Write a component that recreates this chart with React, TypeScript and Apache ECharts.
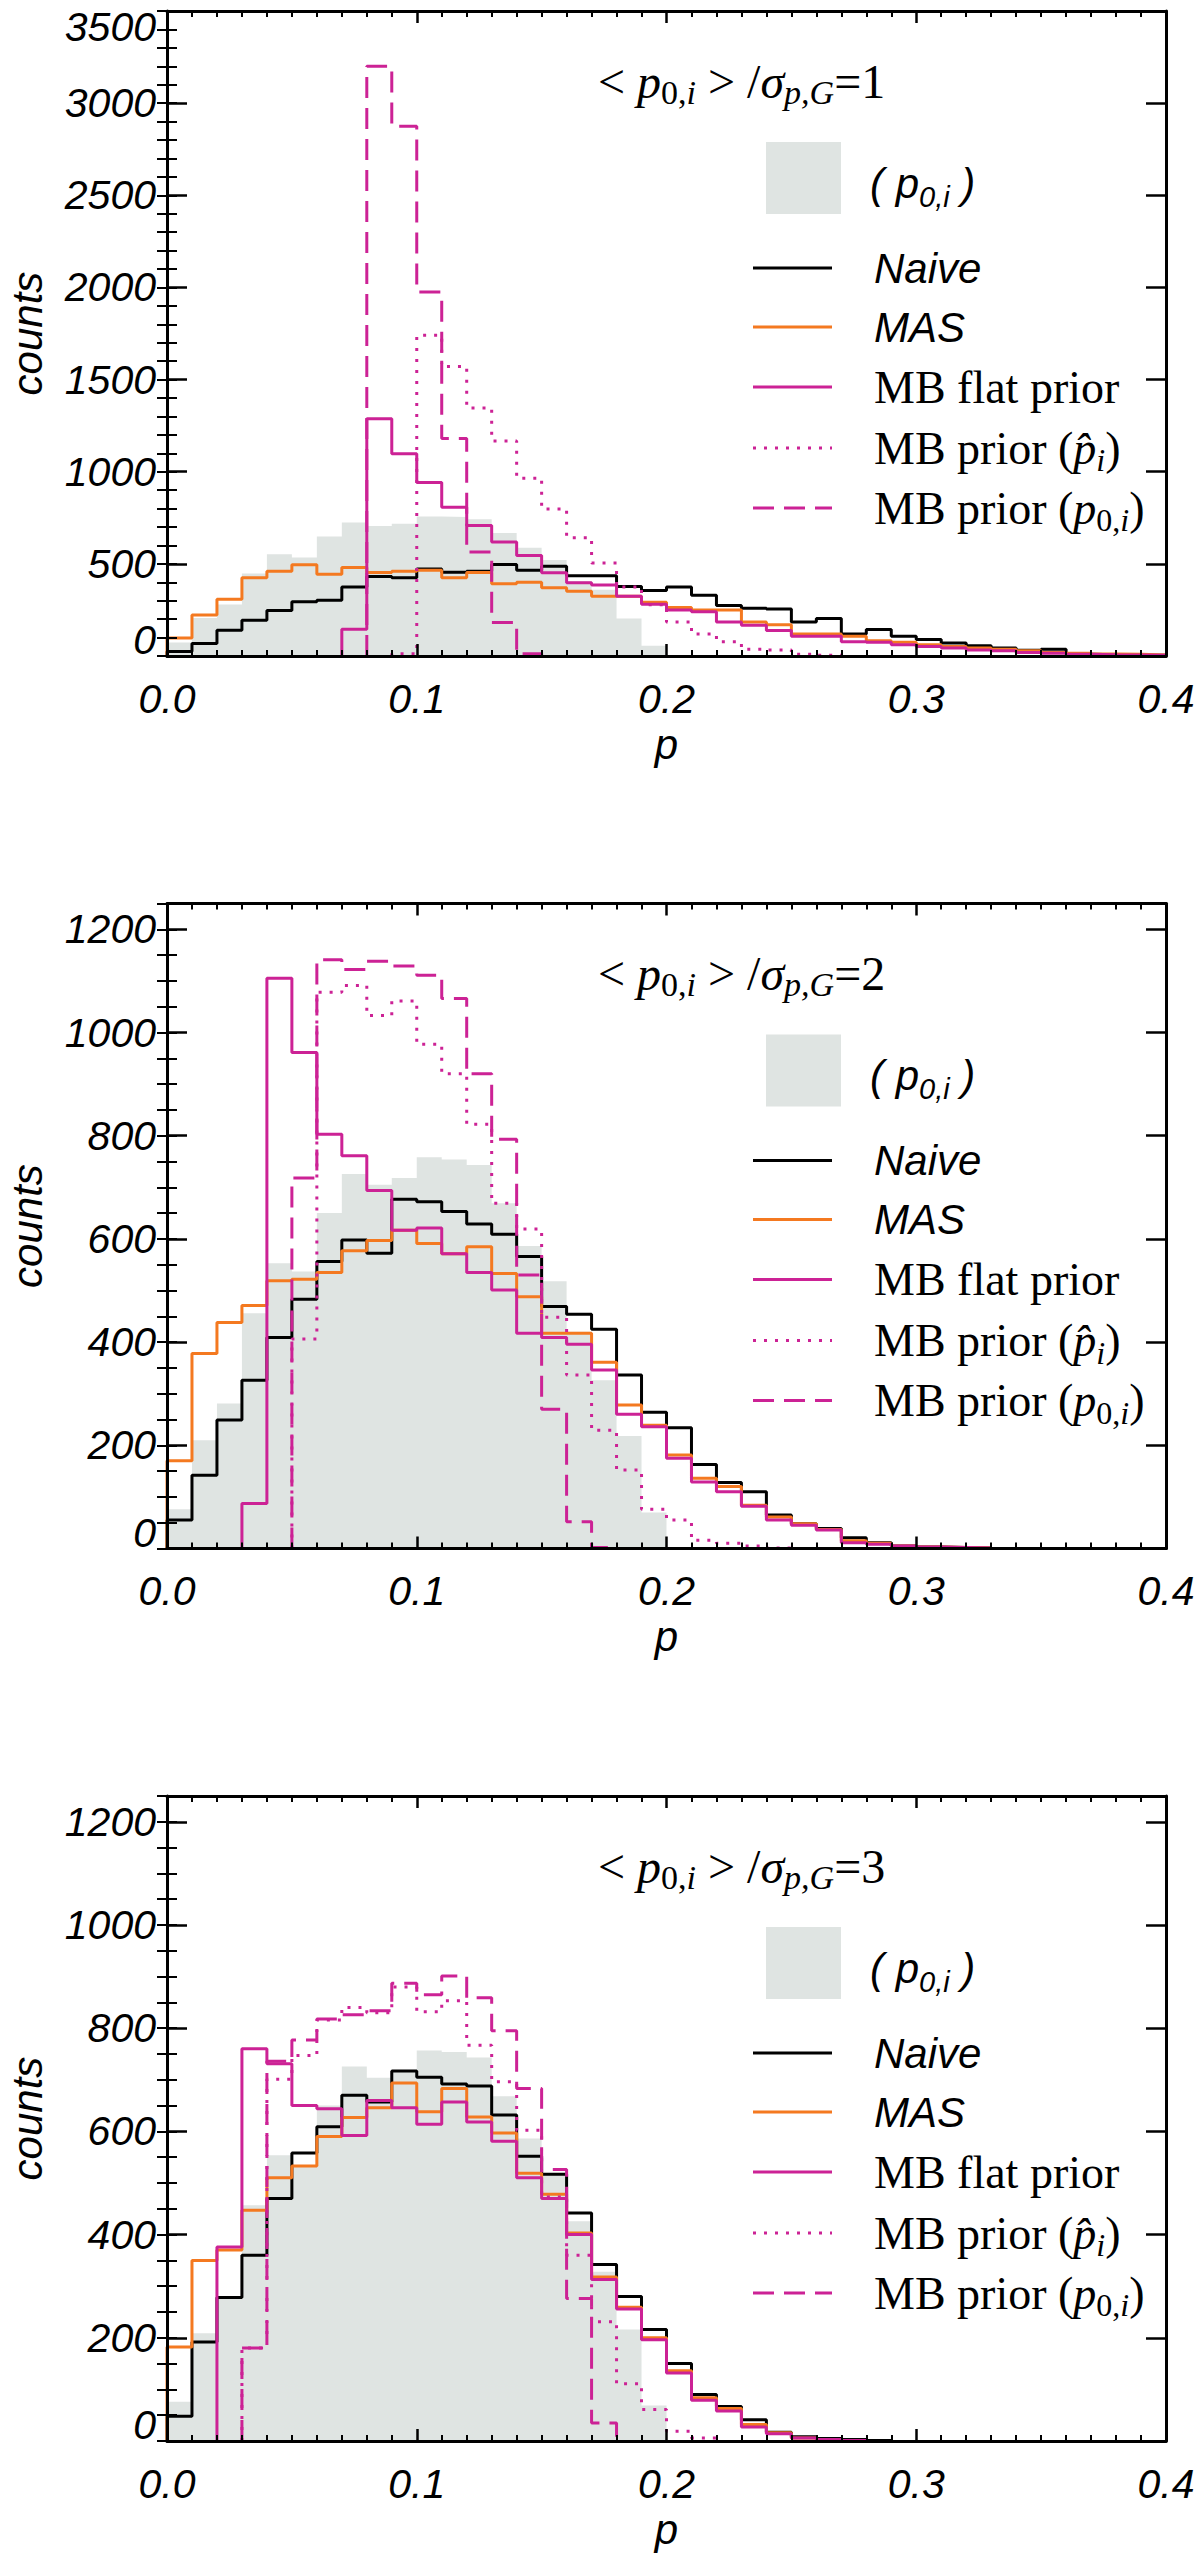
import React, { useEffect, useRef } from "react";
import * as echarts from "echarts";

// ---------- fonts & colours ----------
const SANS = "'Liberation Sans', Arial, sans-serif";
const SERIF = "'Liberation Serif', 'Times New Roman', serif";
const BLACK = "#000000";
const ORANGE = "#f47920";
const MAGENTA = "#cc2295";
const GRAY = "#dfe4e2";

// ---------- data (counts per 0.01-wide bin of p, starting at p = 0) ----------
const BIN = 0.01;
const xTickValues = [0, 0.1, 0.2, 0.3, 0.4];
const ratioLabels = ["1", "2", "3"];

// panel 1 : <p0,i>/sigma = 1
const truth1 = [73, 206, 279, 448, 552, 535, 649, 724, 705, 717, 757, 754, 742, 667, 587, 521, 405, 360, 204, 55];
const naive1 = [24, 68, 140, 194, 247, 295, 303, 375, 431, 424, 472, 455, 460, 497, 465, 487, 436, 436, 377, 355, 374, 329, 274, 259, 255, 185, 204, 120, 144, 107, 89, 70, 56, 43, 31, 37, 9, 7, 5, 4];
const mas1 = [97, 223, 308, 424, 460, 495, 443, 480, 453, 460, 465, 424, 453, 392, 400, 370, 351, 324, 324, 292, 263, 250, 250, 185, 170, 120, 120, 107, 83, 74, 61, 52, 43, 37, 28, 19, 15, 11, 9, 6];
const flat1 = [0, 0, 0, 0, 0, 0, 0, 145, 1287, 1098, 942, 807, 708, 618, 546, 452, 398, 385, 324, 281, 250, 240, 185, 167, 139, 107, 107, 78, 74, 61, 52, 43, 33, 28, 19, 15, 9, 7, 6, 4];
const phat1 = [0, 0, 0, 0, 0, 0, 0, 0, 0, 12, 1740, 1571, 1346, 1167, 965, 798, 642, 505, 374, 278, 185, 120, 78, 37, 33, 9, 4];
const p0prior1 = [0, 0, 0, 0, 0, 0, 0, 0, 3200, 2875, 1975, 1180, 565, 182, 12];

// panel 2 : <p0,i>/sigma = 2
const truth2 = [76, 210, 281, 456, 553, 537, 650, 726, 705, 718, 758, 754, 743, 669, 586, 518, 420, 326, 218, 70];
const naive2 = [55, 142, 249, 326, 409, 483, 556, 598, 572, 677, 672, 653, 629, 609, 566, 469, 454, 425, 336, 264, 234, 163, 128, 110, 65, 48, 39, 21, 11, 5, 3, 2, 1];
const mas2 = [170, 378, 438, 471, 519, 522, 535, 577, 597, 617, 591, 571, 585, 533, 488, 417, 417, 361, 278, 239, 181, 136, 120, 84, 61, 48, 37, 15, 10, 5, 3, 2, 1];
const flat2 = [0, 0, 0, 87, 1105, 961, 803, 761, 694, 617, 621, 571, 535, 501, 417, 409, 396, 346, 260, 236, 175, 129, 110, 82, 55, 45, 36, 11, 8, 5, 3, 2, 1];
const phat2 = [0, 0, 0, 0, 0, 406, 1078, 1091, 1033, 1061, 977, 920, 822, 669, 619, 448, 336, 229, 152, 76, 55, 16, 10, 5, 1];
const p0prior2 = [0, 0, 0, 0, 0, 718, 1141, 1122, 1138, 1129, 1111, 1066, 920, 793, 530, 270, 52, 2];

// panel 3 : <p0,i>/sigma = 3
const truth3 = [76, 209, 281, 457, 554, 535, 650, 726, 704, 716, 757, 754, 743, 668, 586, 518, 426, 328, 216, 69];
const naive3 = [48, 192, 278, 360, 470, 558, 609, 670, 657, 717, 705, 692, 688, 632, 552, 517, 442, 342, 280, 216, 150, 90, 67, 41, 17, 8, 5, 3, 1];
const mas3 = [182, 350, 370, 447, 510, 533, 590, 627, 646, 694, 638, 683, 628, 597, 519, 478, 403, 318, 259, 200, 136, 84, 63, 32, 16, 6, 3, 1];
const flat3 = [0, 0, 376, 760, 731, 650, 644, 592, 660, 646, 614, 657, 618, 581, 510, 470, 400, 313, 256, 196, 132, 79, 58, 27, 14, 6, 3, 1];
const phat3 = [0, 0, 0, 180, 701, 747, 816, 840, 830, 880, 832, 853, 767, 696, 602, 473, 360, 231, 111, 61, 19, 6];
const p0prior3 = [0, 0, 0, 180, 736, 777, 818, 826, 834, 887, 865, 901, 859, 795, 683, 526, 276, 35];

// y-axis settings per panel
const yMaxes = [3500, 1250, 1250];
const yMajor = [500, 200, 200];
const yMinor = [100, 50, 50];

// ---------- layout ----------
const PLOT_LEFT = 167;
const PLOT_WIDTH = 999;
const PLOT_HEIGHT = 645;
const PANEL_TOPS = [11, 903.5, 1796];
const TICK_FONT = 41;
const SANS_TEXT = 42;

const panels = [
  { truth: truth1, naive: naive1, mas: mas1, flat: flat1, phat: phat1, p0: p0prior1 },
  { truth: truth2, naive: naive2, mas: mas2, flat: flat2, phat: phat2, p0: p0prior2 },
  { truth: truth3, naive: naive3, mas: mas3, flat: flat3, phat: phat3, p0: p0prior3 },
];

const r2 = (v: number) => Math.round(v * 1000) / 1000;

// histogram outline points from counts (step shape)
function histPoints(counts: number[]): number[][] {
  const first = counts.findIndex((v) => v > 0);
  if (first < 0) return [];
  let last = counts.length - 1;
  while (last >= 0 && !(counts[last] > 0)) last--;
  const pts: number[][] = [[r2(first * BIN), 0]];
  for (let k = first; k <= last; k++) {
    pts.push([r2(k * BIN), counts[k] || 0]);
    pts.push([r2((k + 1) * BIN), counts[k] || 0]);
  }
  pts.push([r2((last + 1) * BIN), 0]);
  return pts;
}

const textRich = {
  n: { fontFamily: SERIF, fontSize: 46, fill: BLACK, lineHeight: 56 },
  it: { fontFamily: SERIF, fontStyle: "italic", fontSize: 46, fill: BLACK, lineHeight: 56 },
  sb: { fontFamily: SERIF, fontSize: 32, fill: BLACK, lineHeight: 30, verticalAlign: "bottom" },
  sbi: { fontFamily: SERIF, fontStyle: "italic", fontSize: 32, fill: BLACK, lineHeight: 30, verticalAlign: "bottom" },
  tn: { fontFamily: SERIF, fontSize: 48, fill: BLACK, lineHeight: 56 },
  tit: { fontFamily: SERIF, fontStyle: "italic", fontSize: 48, fill: BLACK, lineHeight: 56 },
  tsb: { fontFamily: SERIF, fontSize: 34, fill: BLACK, lineHeight: 30, verticalAlign: "bottom" },
  tsbi: { fontFamily: SERIF, fontStyle: "italic", fontSize: 34, fill: BLACK, lineHeight: 30, verticalAlign: "bottom" },
  si: { fontFamily: SANS, fontStyle: "italic", fontSize: SANS_TEXT, fill: BLACK, lineHeight: 56 },
  ssi: { fontFamily: SANS, fontStyle: "italic", fontSize: 29, fill: BLACK, lineHeight: 30, verticalAlign: "bottom" },
};

function buildOption() {
  const grid: any[] = [];
  const xAxis: any[] = [];
  const yAxis: any[] = [];
  const series: any[] = [];
  const graphic: any[] = [];

  const tickLine = { color: BLACK, width: 2.5 };

  panels.forEach((pd, i) => {
    const T = PANEL_TOPS[i];
    grid.push({ left: PLOT_LEFT, top: T, width: PLOT_WIDTH, height: PLOT_HEIGHT, containLabel: false });

    const xCommon = {
      gridIndex: i,
      type: "value",
      min: xTickValues[0],
      max: xTickValues[xTickValues.length - 1],
      interval: 0.1,
      z: 10,
      axisLine: { show: true, onZero: false, lineStyle: { color: BLACK, width: 3 } },
      axisTick: { show: true, inside: true, length: 12, lineStyle: tickLine },
      minorTick: { show: true, splitNumber: 10, length: 6, lineStyle: { color: BLACK, width: 2 } },
      splitLine: { show: false },
      minorSplitLine: { show: false },
    };
    xAxis.push({
      ...xCommon,
      position: "bottom",
      axisLabel: {
        show: true,
        margin: 22,
        color: BLACK,
        fontFamily: SANS,
        fontStyle: "italic",
        fontSize: TICK_FONT,
        formatter: (v: number) => v.toFixed(1),
      },
    });
    xAxis.push({ ...xCommon, position: "top", axisLabel: { show: false } });

    const yMax = yMaxes[i];
    const yCommon = {
      gridIndex: i,
      type: "value",
      min: 0,
      max: yMax,
      z: 10,
      splitLine: { show: false },
    };
    const labelFont = { color: BLACK, fontFamily: SANS, fontStyle: "italic", fontSize: TICK_FONT };
    // left major axis with labels
    yAxis.push({
      ...yCommon,
      position: "left",
      interval: yMajor[i],
      axisLine: { show: true, onZero: false, lineStyle: { color: BLACK, width: 3 } },
      axisTick: { show: true, inside: true, length: 20, lineStyle: tickLine },
      axisLabel: {
        show: true,
        margin: 11,
        ...labelFont,
        showMaxLabel: yMax % yMajor[i] === 0,
        formatter: (v: number) => {
          if (v === 0) return "{lo|0}";
          if (v === yMax) return "{hi|" + v + "}";
          return String(v);
        },
        rich: {
          lo: { ...labelFont, padding: [0, 0, 32, 0] },
          hi: { ...labelFont, padding: [32, 0, 0, 0] },
        },
      },
    });
    // right major axis
    yAxis.push({
      ...yCommon,
      position: "right",
      interval: yMajor[i],
      axisLine: { show: true, onZero: false, lineStyle: { color: BLACK, width: 3 } },
      axisTick: { show: true, inside: true, length: 20, lineStyle: tickLine },
      axisLabel: { show: false },
    });
    // minor tick axes
    ["left", "right"].forEach((pos) => {
      yAxis.push({
        ...yCommon,
        position: pos,
        interval: yMinor[i],
        axisLine: { show: false },
        axisTick: { show: true, inside: true, length: 10, lineStyle: { color: BLACK, width: 2 } },
        axisLabel: { show: false },
      });
    });

    const base = {
      type: "line",
      xAxisIndex: 2 * i,
      yAxisIndex: 4 * i,
      symbol: "none",
      showSymbol: false,
      silent: true,
      animation: false,
      clip: true,
    };
    series.push({
      ...base,
      name: "truth" + i,
      data: histPoints(pd.truth),
      lineStyle: { width: 0, opacity: 0 },
      areaStyle: { color: GRAY, opacity: 1, origin: "start" },
      z: 1,
    });
    series.push({ ...base, name: "naive" + i, data: histPoints(pd.naive), lineStyle: { color: BLACK, width: 3 }, z: 2 });
    series.push({ ...base, name: "mas" + i, data: histPoints(pd.mas), lineStyle: { color: ORANGE, width: 3 }, z: 3 });
    series.push({ ...base, name: "flat" + i, data: histPoints(pd.flat), lineStyle: { color: MAGENTA, width: 3 }, z: 4 });
    series.push({ ...base, name: "phat" + i, data: histPoints(pd.phat), lineStyle: { color: MAGENTA, width: 3, type: [3, 8] }, z: 5 });
    series.push({ ...base, name: "p0" + i, data: histPoints(pd.p0), lineStyle: { color: MAGENTA, width: 3, type: [21, 10] }, z: 6 });

    // ---- texts & legend ----
    graphic.push({
      type: "text",
      x: 598,
      y: T + 70,
      z: 20,
      style: {
        text: "{tn|< }{tit|p}{tsb|0,}{tsbi|i}{tn| > /}{tit|σ}{tsbi|p,G}{tn|=" + ratioLabels[i] + "}",
        rich: textRich,
        align: "left",
        verticalAlign: "middle",
      },
    });
    graphic.push({
      type: "rect",
      shape: { x: 766, y: T + 131, width: 75, height: 72 },
      style: { fill: GRAY },
      z: 20,
    });
    graphic.push({
      type: "text",
      x: 870,
      y: T + 172,
      z: 20,
      style: { text: "{si|( }{si|p}{ssi|0,i}{si| )}", rich: textRich, align: "left", verticalAlign: "middle" },
    });
    const legendRows = [
      { dy: 257, color: BLACK, dash: null, text: "{si|Naive}" },
      { dy: 316, color: ORANGE, dash: null, text: "{si|MAS}" },
      { dy: 376, color: MAGENTA, dash: null, text: "{n|MB flat prior}" },
      { dy: 437, color: MAGENTA, dash: [3, 8], text: "{n|MB prior (}{it|p\u0302}{sbi|i}{n|)}" },
      { dy: 497, color: MAGENTA, dash: [21, 10], text: "{n|MB prior (}{it|p}{sb|0,}{sbi|i}{n|)}" },
    ];
    legendRows.forEach((row) => {
      graphic.push({
        type: "line",
        z: 20,
        shape: { x1: 753, y1: T + row.dy, x2: 832, y2: T + row.dy },
        style: { stroke: row.color, lineWidth: 3, lineDash: row.dash || undefined },
      });
      graphic.push({
        type: "text",
        x: 874,
        y: T + row.dy,
        z: 20,
        style: { text: row.text, rich: textRich, align: "left", verticalAlign: "middle" },
      });
    });

    graphic.push({
      type: "text",
      x: 27,
      y: T + PLOT_HEIGHT / 2,
      rotation: Math.PI / 2,
      z: 20,
      style: {
        text: "counts",
        fontFamily: SANS,
        fontStyle: "italic",
        fontSize: SANS_TEXT,
        fill: BLACK,
        align: "center",
        verticalAlign: "middle",
      },
    });
    graphic.push({
      type: "text",
      x: PLOT_LEFT + PLOT_WIDTH / 2,
      y: T + PLOT_HEIGHT + 88,
      z: 20,
      style: {
        text: "p",
        fontFamily: SANS,
        fontStyle: "italic",
        fontSize: SANS_TEXT,
        fill: BLACK,
        align: "center",
        verticalAlign: "middle",
      },
    });
  });

  return {
    animation: false,
    backgroundColor: "#ffffff",
    grid,
    xAxis,
    yAxis,
    series,
    graphic,
  };
}

export default function App() {
  const ref = useRef<HTMLDivElement>(null);
  useEffect(() => {
    if (!ref.current) return;
    const chart = echarts.init(ref.current, null, { renderer: "svg", width: 1200, height: 2560 });
    chart.setOption(buildOption() as any);
    return () => chart.dispose();
  }, []);
  return (
    <div
      ref={ref}
      style={{ position: "absolute", left: 0, top: 0, width: 1200, height: 2560, background: "#ffffff" }}
    />
  );
}
